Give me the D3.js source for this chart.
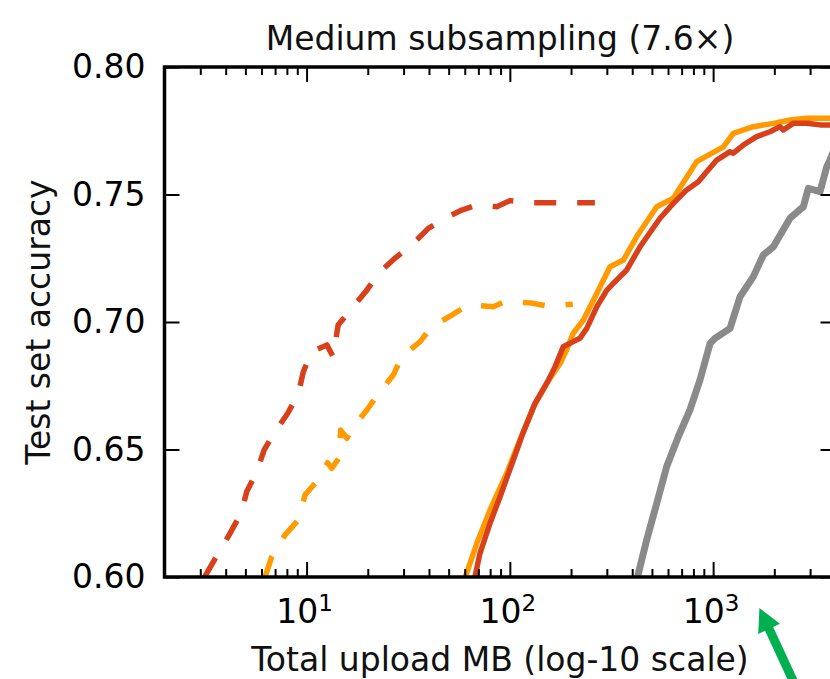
<!DOCTYPE html>
<html>
<head>
<meta charset="utf-8">
<script src="https://cdn.jsdelivr.net/npm/d3@7"></script>
<style>
    body { margin: 0; background: #fff; }
    svg { display: block; font-family: "DejaVu Sans", sans-serif; }
</style>
</head>
<body>
<svg id="chart" width="830" height="679"></svg>
<script>
// values: total upload MB (x) vs test set accuracy (y)
const redDashedMB = [3.15, 3.68, 4.20, 4.76, 5.08, 5.69, 6.18, 7.00, 8.08, 9.11, 9.64, 10.6, 12.6, 13.5, 14.3, 16.7, 19.8, 22.6, 27.2, 32.9, 39.7, 48.0, 58.0, 68.7, 86.2, 100, 128, 164, 213, 262];
const redDashedAcc = [0.6000, 0.6093, 0.6171, 0.6250, 0.6335, 0.6413, 0.6498, 0.6570, 0.6642, 0.6720, 0.6805, 0.6884, 0.6910, 0.6864, 0.6988, 0.7054, 0.7125, 0.7191, 0.7250, 0.7302, 0.7367, 0.7407, 0.7439, 0.7459, 0.7452, 0.7476, 0.7468, 0.7468, 0.7468, 0.7468];

const orangeDashedMB = [6.25, 6.74, 7.84, 9.11, 9.83, 11.2, 12.7, 13.3, 14.5, 14.7, 15.8, 16.8, 19.8, 22.6, 26.7, 29.4, 36.2, 41.3, 51.8, 62.5, 83.0, 94.7, 126, 155, 204];
const orangeDashedAcc = [0.6000, 0.6080, 0.6165, 0.6224, 0.6322, 0.6374, 0.6448, 0.6426, 0.6469, 0.6576, 0.6544, 0.6583, 0.6655, 0.6720, 0.6792, 0.6864, 0.6923, 0.6982, 0.7027, 0.7067, 0.7060, 0.7080, 0.7075, 0.7062, 0.7070];

const redSolidMB = [66.5, 71.3, 79.9, 89.5, 104, 116, 133, 152, 167, 183, 205, 221, 239, 268, 300, 336, 376, 437, 548, 637, 741, 846, 930, 1042, 1211, 1257, 1408, 1638, 1905, 2133, 2214, 2479, 2886, 3357, 3758, 4000];
const redSolidAcc = [0.5980, 0.6093, 0.6211, 0.6315, 0.6459, 0.6564, 0.6681, 0.6760, 0.6825, 0.6903, 0.6923, 0.6936, 0.6975, 0.7060, 0.7125, 0.7165, 0.7204, 0.7295, 0.7407, 0.7465, 0.7518, 0.7550, 0.7589, 0.7635, 0.7668, 0.7662, 0.7694, 0.7727, 0.7746, 0.7766, 0.7753, 0.7779, 0.7779, 0.7773, 0.7773, 0.7775];

const orangeSolidMB = [59.5, 68.8, 79.9, 96.5, 112, 131, 152, 177, 190, 205, 230, 258, 278, 311, 362, 421, 528, 637, 830, 1122, 1257, 1577, 1978, 2389, 2886, 3758, 4000];
const orangeSolidAcc = [0.5985, 0.6132, 0.6263, 0.6407, 0.6537, 0.6668, 0.6760, 0.6838, 0.6890, 0.6956, 0.7008, 0.7086, 0.7138, 0.7217, 0.7243, 0.7335, 0.7452, 0.7485, 0.7629, 0.7687, 0.7740, 0.7766, 0.7779, 0.7792, 0.7799, 0.7799, 0.7797];

const grayMB = [410, 421, 471, 528, 591, 674, 769, 862, 966, 1021, 1211, 1356, 1577, 1766, 1978, 2389, 2779, 2940, 3357, 3623, 3758, 4000];
const grayAcc = [0.5975, 0.5988, 0.6145, 0.6289, 0.6433, 0.6550, 0.6655, 0.6773, 0.6916, 0.6936, 0.6975, 0.7099, 0.7178, 0.7263, 0.7295, 0.7407, 0.7452, 0.7524, 0.7511, 0.7609, 0.7635, 0.7690];

const xDomain = [2, 4000];
const yDomain = [0.60, 0.80];
const xMajorTicks = [10, 100, 1000];
const xMajorExponents = ["1", "2", "3"];
const yTicks = [0.60, 0.65, 0.70, 0.75, 0.80];
const yTickLabels = ["0.60", "0.65", "0.70", "0.75", "0.80"];

const titleText = "Medium subsampling (7.6\u00d7)";
const xLabelText = "Total upload MB (log-10 scale)";
const yLabelText = "Test set accuracy";

const plot = { left: 164.5, top: 67, right: 835.5, bottom: 577 };
const fontSize = 33;

const svg = d3.select('#chart');

const x = d3.scaleLog().domain(xDomain).range([plot.left, plot.right]);
const y = d3.scaleLinear().domain(yDomain).range([plot.bottom, plot.top]);

// minor ticks 2..9 of every decade inside the domain
const xMinorTicks = [];
[1, 10, 100, 1000].forEach(d => {
    for (let k = 2; k <= 9; k++) {
        let v = d * k;
        if (v >= xDomain[0] && v <= xDomain[1]) xMinorTicks.push(v);
    }
});

svg.append('defs').append('clipPath')
    .attr('id', 'plotClip')
    .append('rect')
    .attr('x', plot.left)
    .attr('y', plot.top)
    .attr('width', plot.right - plot.left)
    .attr('height', plot.bottom - plot.top);

const series = [
    { mb: redDashedMB, acc: redDashedAcc, color: '#d8401c', width: 5.5, dash: '22,21' },
    { mb: orangeDashedMB, acc: orangeDashedAcc, color: '#ff9a00', width: 5.5, dash: '22,21' },
    { mb: orangeSolidMB, acc: orangeSolidAcc, color: '#ff9a00', width: 5.5, dash: null },
    { mb: redSolidMB, acc: redSolidAcc, color: '#d8401c', width: 5.5, dash: null },
    { mb: grayMB, acc: grayAcc, color: '#8a8a8a', width: 7, dash: null }
];

const line = d3.line()
    .x(d => x(d[0]))
    .y(d => y(d[1]));

const linesG = svg.append('g').attr('clip-path', 'url(#plotClip)');
series.forEach(s => {
    linesG.append('path')
        .datum(d3.zip(s.mb, s.acc))
        .attr('fill', 'none')
        .attr('stroke', s.color)
        .attr('stroke-width', s.width)
        .attr('stroke-linejoin', 'round')
        .attr('stroke-dasharray', s.dash)
        .attr('d', line);
});

// ticks point inward on all four sides
function drawAxis(axis, transform) {
    let g = svg.append('g')
        .attr('transform', transform)
        .call(axis);
    g.select('.domain').remove();
    g.selectAll('.tick line').attr('stroke', '#000').attr('stroke-width', 2);
    return g;
}

drawAxis(d3.axisBottom(x).tickValues(xMinorTicks).tickSize(-8).tickFormat(''), `translate(0,${plot.bottom})`);
drawAxis(d3.axisBottom(x).tickValues(xMajorTicks).tickSize(-15).tickFormat(''), `translate(0,${plot.bottom})`);
drawAxis(d3.axisTop(x).tickValues(xMinorTicks).tickSize(-8).tickFormat(''), `translate(0,${plot.top})`);
drawAxis(d3.axisTop(x).tickValues(xMajorTicks).tickSize(-15).tickFormat(''), `translate(0,${plot.top})`);
drawAxis(d3.axisRight(y).tickValues(yTicks).tickSize(-15).tickFormat(''), `translate(${plot.right},0)`);

let leftAxis = drawAxis(d3.axisLeft(y).tickValues(yTicks).tickSize(-15).tickPadding(19)
        .tickFormat((d, i) => yTickLabels[i]), `translate(${plot.left},0)`);
leftAxis.selectAll('.tick text')
    .attr('font-family', '"DejaVu Sans", sans-serif')
    .attr('font-size', fontSize)
    .attr('fill', '#000');

// x tick labels as 10 with a superscript exponent
const xLabelsG = svg.append('g');
xMajorTicks.forEach((v, i) => {
    let t = xLabelsG.append('text')
        .attr('x', x(v) - 2)
        .attr('y', plot.bottom + 46)
        .attr('text-anchor', 'middle')
        .attr('font-size', fontSize)
        .attr('fill', '#000');
    t.append('tspan').text('10');
    t.append('tspan')
        .attr('font-size', 23)
        .attr('dy', -12)
        .text(xMajorExponents[i]);
});

svg.append('rect')
    .attr('x', plot.left)
    .attr('y', plot.top)
    .attr('width', plot.right - plot.left)
    .attr('height', plot.bottom - plot.top)
    .attr('fill', 'none')
    .attr('stroke', '#000')
    .attr('stroke-width', 3.5);

svg.append('text')
    .attr('x', (plot.left + plot.right) / 2)
    .attr('y', 50)
    .attr('text-anchor', 'middle')
    .attr('font-size', fontSize)
    .attr('fill', '#111')
    .text(titleText);

svg.append('text')
    .attr('x', (plot.left + plot.right) / 2)
    .attr('y', 671)
    .attr('text-anchor', 'middle')
    .attr('font-size', fontSize)
    .attr('fill', '#111')
    .text(xLabelText);

svg.append('text')
    .attr('transform', 'rotate(-90)')
    .attr('x', -(plot.top + plot.bottom) / 2)
    .attr('y', 50)
    .attr('text-anchor', 'middle')
    .attr('font-size', fontSize)
    .attr('fill', '#111')
    .text(yLabelText);

// green annotation arrow pointing at the axis just right of 10^3
const tip = [x(1690), plot.bottom + 31];
const dir = [0.42, 0.908], nrm = [0.908, -0.42];
const at = (a, b) => [tip[0] + dir[0] * a + nrm[0] * b, tip[1] + dir[1] * a + nrm[1] * b];
const arrowPts = [at(0, 0), at(23, 12), at(23, 4.5), at(100, 4.5), at(100, -4.5), at(23, -4.5), at(23, -12)];
svg.append('path')
    .attr('d', d3.line()(arrowPts) + 'Z')
    .attr('fill', '#00b050');
</script>
</body>
</html>
